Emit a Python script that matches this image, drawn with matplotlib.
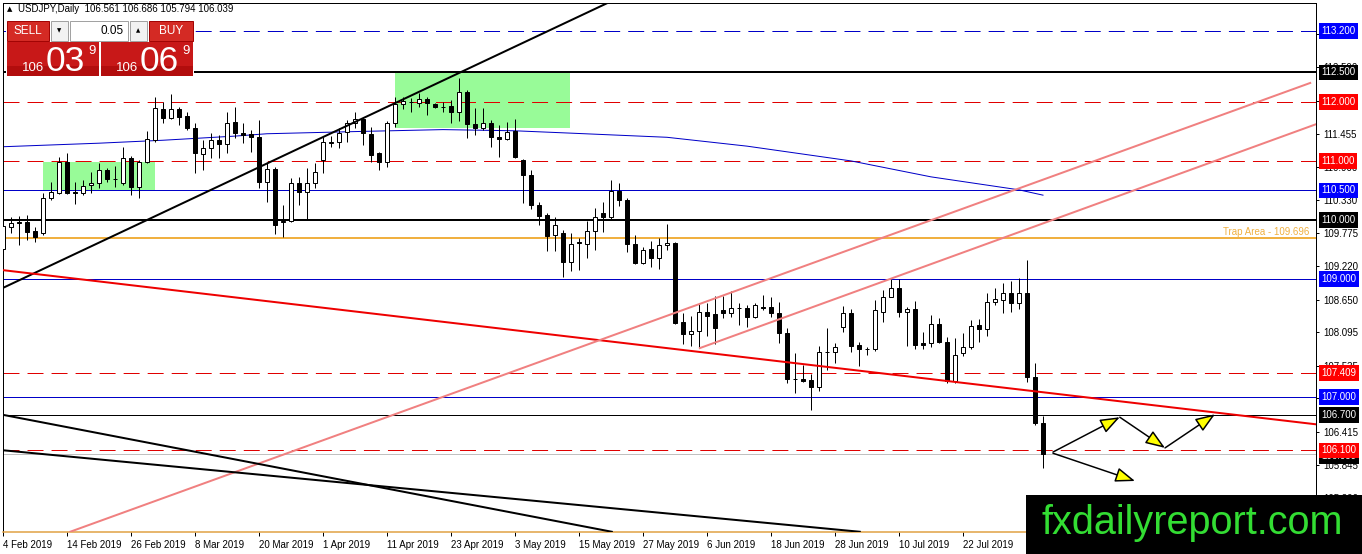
import matplotlib
matplotlib.use('Agg')
import matplotlib.pyplot as plt
import matplotlib.transforms as mtransforms
from matplotlib.patches import Rectangle, FancyArrowPatch

plt.rcParams['font.family'] = ['Liberation Sans', 'DejaVu Sans']
plt.rcParams['lines.scale_dashes'] = False

# ---------------- data ----------------
opens = [109.50,109.88,109.96,109.97,109.81,109.78,110.37,110.46,110.98,110.47,
         110.46,110.59,110.62,110.85,110.70,110.62,111.05,110.56,110.98,111.35,
         111.88,111.73,111.88,111.76,111.56,111.12,111.22,111.35,111.29,111.66,
         111.47,111.46,111.40,110.64,110.86,109.97,109.98,110.63,110.47,110.63,
         111.02,111.31,111.32,111.49,111.64,111.71,111.46,111.13,110.98,111.64,
         111.96,112.00,111.98,112.05,111.96,111.92,111.93,111.83,112.17,111.62,
         111.56,111.64,111.40,111.37,111.50,111.02,110.76,110.25,110.08,109.75,
         109.78,109.29,109.62,109.59,109.81,110.12,110.05,110.49,110.34,109.59,
         109.27,109.51,109.36,109.58,109.61,108.27,108.07,108.12,108.44,108.41,
         108.48,108.42,108.51,108.51,108.36,108.52,108.53,108.42,108.09,107.31,
         107.31,107.29,107.17,107.77,107.76,108.19,108.42,107.88,107.81,107.81,
         108.44,108.70,108.85,108.44,108.49,107.92,107.92,108.24,107.93,107.27,
         107.75,107.85,108.22,108.15,108.61,108.64,108.76,108.59,108.76,107.34,
         106.561]
highs = [110.02,110.05,110.07,110.08,109.88,110.46,110.64,111.07,111.13,110.64,
         110.68,110.81,110.96,110.88,110.91,111.24,111.08,111.02,111.51,112.08,
         112.00,112.13,111.91,111.83,111.64,111.35,111.47,111.44,111.83,111.91,
         111.64,111.52,111.69,110.96,110.90,110.25,110.71,110.73,110.88,110.96,
         111.40,111.42,111.56,111.69,111.83,111.74,111.57,111.15,111.68,112.08,
         112.08,112.07,112.15,112.08,111.98,112.00,112.03,112.40,112.20,111.90,
         111.90,111.69,111.61,111.66,111.71,111.04,110.85,110.30,110.12,110.05,
         109.83,109.78,109.69,109.98,110.20,110.30,110.68,110.63,110.37,109.75,
         109.54,109.64,109.69,109.93,109.63,108.42,108.37,108.59,108.59,108.71,
         108.71,108.80,108.59,108.56,108.59,108.73,108.70,108.61,108.17,107.75,
         107.54,107.40,107.87,108.17,107.92,108.54,108.49,107.93,107.85,108.64,
         108.81,109.00,109.00,108.53,108.63,108.10,108.39,108.34,108.02,108.00,
         108.09,108.31,108.32,108.76,108.85,108.93,108.97,109.02,109.32,107.58,
         106.686]
lows = [109.40,109.78,109.58,109.66,109.63,109.75,110.34,110.44,110.44,110.27,
        110.42,110.46,110.54,110.64,110.56,110.59,110.42,110.37,110.96,111.32,
        111.64,111.71,111.61,111.52,110.80,110.85,111.05,111.05,111.13,111.39,
        111.30,111.15,110.54,110.30,109.76,109.71,109.97,110.25,110.02,110.54,
        110.79,111.24,111.22,111.32,111.56,111.27,110.98,110.85,110.90,111.57,
        111.88,111.83,111.91,111.78,111.90,111.83,111.64,111.67,111.39,111.44,
        111.52,111.24,111.07,111.35,111.05,110.29,110.19,109.91,109.47,109.47,
        109.03,109.14,109.15,109.36,109.49,109.80,110.02,110.24,109.46,109.25,
        109.25,109.20,109.17,109.49,108.23,107.90,107.87,107.85,108.03,107.90,
        108.34,108.36,108.22,108.19,108.34,108.48,108.36,107.92,107.24,107.07,
        107.26,106.78,107.10,107.46,107.58,108.10,107.76,107.53,107.71,107.78,
        108.27,108.70,108.36,107.87,107.81,107.81,107.85,107.92,107.24,107.24,
        107.70,107.81,107.93,108.03,108.56,108.42,108.44,108.49,107.26,106.53,
        105.794]
closes = [109.90,109.95,109.95,109.80,109.71,110.37,110.47,110.98,110.46,110.46,
          110.57,110.62,110.85,110.69,110.69,111.05,110.56,110.98,111.37,111.90,
          111.73,111.88,111.74,111.56,111.13,111.22,111.35,111.29,111.64,111.47,
          111.44,111.40,110.64,110.86,109.91,109.98,110.63,110.47,110.63,110.81,
          111.32,111.32,111.47,111.64,111.71,111.47,111.10,110.98,111.64,111.96,
          112.01,112.00,112.05,111.98,111.91,111.91,111.83,112.17,111.62,111.56,
          111.64,111.40,111.37,111.49,111.07,110.76,110.25,110.07,109.73,109.91,
          109.29,109.59,109.61,109.81,110.05,110.05,110.49,110.34,109.59,109.27,
          109.49,109.36,109.58,109.61,108.25,108.07,108.12,108.44,108.37,108.17,
          108.42,108.51,108.51,108.36,108.56,108.51,108.42,108.09,107.31,107.31,
          107.27,107.17,107.76,107.76,107.85,108.42,107.87,107.81,107.82,108.48,
          108.70,108.85,108.44,108.49,107.88,107.88,108.24,107.93,107.27,107.71,
          107.85,108.20,108.15,108.61,108.66,108.76,108.59,108.76,107.34,106.56,
          106.039]

date_tick_bars = [0, 8, 16, 24, 32, 40, 48, 56, 64, 72, 80, 88, 96, 104, 112, 120]
date_tick_labels = ["4 Feb 2019", "14 Feb 2019", "26 Feb 2019", "8 Mar 2019",
                    "20 Mar 2019", "1 Apr 2019", "11 Apr 2019", "23 Apr 2019",
                    "3 May 2019", "15 May 2019", "27 May 2019", "6 Jun 2019",
                    "18 Jun 2019", "28 Jun 2019", "10 Jul 2019", "22 Jul 2019"]

price_ticks = [113.145, 112.590, 112.010, 111.455, 110.900, 110.330, 109.775,
               109.220, 108.650, 108.095, 107.535, 106.985, 106.415, 105.845, 105.290]

ma_bars = [0, 12, 20, 29, 33, 45, 55, 64, 71, 83, 93, 106, 116, 127, 130]
ma_vals = [111.24, 111.30, 111.35, 111.42, 111.46, 111.50, 111.53, 111.51,
           111.47, 111.40, 111.25, 111.00, 110.73, 110.51, 110.42]

level_prices = [113.2, 112.5, 112.0, 111.0, 110.5, 110.0, 109.0, 107.409, 107.0, 106.7, 106.1]
level_kinds = ['blue_dash', 'black_thick', 'red_dash', 'red_dash', 'blue', 'black_thick',
               'blue', 'red_dash', 'blue', 'black', 'red_dash']
trap_price = 109.696
bid_price = 106.039

trend_black_up = ([0, 75.5], [108.85, 113.67])
trend_red = ([0, 164.1], [109.15, 106.54])
channel_upper = ([8.4, 163.4], [104.72, 112.32])
channel_lower = ([87.1, 164.1], [107.83, 111.62])
trend_black_low1 = ([0, 76.1], [106.70, 104.72])
trend_black_low2 = ([0, 107.1], [106.10, 104.72])

zone1 = (5.0, 19.0, 110.51, 110.98)
zone2 = (49.0, 70.9, 111.56, 112.50)

arrow_path_up = ([131.25, 139.6, 145.25, 151.5], [106.07, 106.66, 106.14, 106.71])
arrow_path_down = ([131.25, 141.5], [106.05, 105.58])

# ---------------- figure ----------------
W, H = 1362, 554
fig = plt.figure(figsize=(W / 100, H / 100), dpi=100)
fig.patch.set_facecolor('white')
ax = fig.add_axes([3 / W, 22 / H, 1313 / W, 529 / H])
ax.set_facecolor('white')
ax.set_xlim(0, 164.125)
ax.set_ylim(104.716, 113.674)

px = 0.72  # one pixel in points

BLUE = '#0000c8'
RED = '#e00000'

# zones
for (x0, x1, y0, y1) in (zone1, zone2):
    ax.add_patch(Rectangle((x0, y0), x1 - x0, y1 - y0, facecolor='#98fb98',
                           edgecolor='none', zorder=1))

# horizontal levels
box_colors = {}
for p, k in zip(level_prices, level_kinds):
    if k == 'blue_dash':
        ax.axhline(p, color=BLUE, lw=px, dashes=(11.5, 5.8), zorder=2)
        box_colors[p] = '#0000ff'
    elif k == 'blue':
        ax.axhline(p, color=BLUE, lw=px, zorder=2)
        box_colors[p] = '#0000ff'
    elif k == 'red_dash':
        ax.axhline(p, color=RED, lw=px, dashes=(11.5, 5.8), zorder=2)
        box_colors[p] = '#ff0000'
    elif k == 'black_thick':
        ax.axhline(p, color='black', lw=2 * px, zorder=2)
        box_colors[p] = 'black'
    else:
        ax.axhline(p, color='black', lw=px, zorder=2)
        box_colors[p] = 'black'
ax.axhline(trap_price, color='#f0b040', lw=2 * px, zorder=2)
ax.axhline(bid_price, color='#c0c0c0', lw=px, zorder=2)
btrans = mtransforms.blended_transform_factory(ax.transAxes, ax.transData)
ax.text(0.995, trap_price + 0.02, 'Trap Area - 109.696', color='#f0b040', fontsize=7,
        ha='right', va='bottom', transform=btrans, zorder=5)

# moving average
ax.plot(ma_bars, ma_vals, color=BLUE, lw=px, zorder=2)

# trend lines
ax.plot(*trend_black_up, color='black', lw=2 * px, zorder=5)
ax.plot(*trend_red, color='#ee0000', lw=2 * px, zorder=5)
ax.plot(*channel_upper, color='#f08080', lw=2 * px, zorder=5)
ax.plot(*channel_lower, color='#f08080', lw=2 * px, zorder=5)
ax.plot(*trend_black_low1, color='black', lw=2 * px, zorder=5)
ax.plot(*trend_black_low2, color='black', lw=2 * px, zorder=5)

# candles
idx = list(range(len(opens)))
ax.vlines(idx, lows, highs, color='black', lw=px, zorder=3)
bottoms = [min(o, c) for o, c in zip(opens, closes)]
heights = [max(abs(c - o), 0.004) for o, c in zip(opens, closes)]
colors = ['white' if c >= o else 'black' for o, c in zip(opens, closes)]
ax.bar(idx, heights, bottom=bottoms, width=0.5, color=colors, edgecolor='black',
       linewidth=px, zorder=4)

# arrows
for xs, ys in (arrow_path_up, arrow_path_down):
    for i in range(len(xs) - 1):
        a = FancyArrowPatch((xs[i], ys[i]), (xs[i + 1], ys[i + 1]),
                            arrowstyle='-|>,head_length=1.2,head_width=0.45',
                            mutation_scale=10, facecolor='#ffff00', edgecolor='black',
                            lw=1.5 * px, shrinkA=0, shrinkB=0, zorder=6)
        ax.add_patch(a)

# axes styling
for s in ['left', 'top', 'right']:
    ax.spines[s].set_color('black')
    ax.spines[s].set_linewidth(px)
ax.spines['bottom'].set_color('#e0a040')
ax.spines['bottom'].set_linewidth(1.5 * px)

ax.yaxis.tick_right()
ax.set_yticks(price_ticks)
ax.set_yticklabels([f'{v:.3f}' for v in price_ticks])
ax.tick_params(axis='y', direction='out', length=2.5, width=px, pad=2.5, labelsize=7, colors='black')
ax.set_xticks(date_tick_bars)
ax.set_xticklabels(date_tick_labels)
for t in ax.get_xticklabels():
    t.set_ha('left')
ax.tick_params(axis='x', direction='out', length=3, width=px, pad=3, labelsize=7, colors='black')

# level price boxes (cover the axis labels beneath them)
ax.text(1.004, bid_price - 0.035, f'{bid_price:.3f}', transform=btrans, color='white', fontsize=7,
        ha='left', va='center', clip_on=False, zorder=9,
        bbox=dict(boxstyle='square,pad=0.28', fc='black', ec='none'))
for p in level_prices:
    ax.text(1.004, p, f'{p:.3f}', transform=btrans, color='white', fontsize=7,
            ha='left', va='center', clip_on=False, zorder=10,
            bbox=dict(boxstyle='square,pad=0.28', fc=box_colors[p], ec='none'))

# ---------------- overlay (trade panel, header, logo) ----------------
ov = fig.add_axes([0, 0, 1, 1], zorder=20)
ov.set_xlim(0, W)
ov.set_ylim(H, 0)
ov.axis('off')
ov.patch.set_alpha(0)

ov.text(7, 9, '\u25b2', fontsize=5, ha='left', va='center', color='black',
        family=['DejaVu Sans'])
ov.text(18, 9, 'USDJPY,Daily  106.561 106.686 105.794 106.039', fontsize=7,
        ha='left', va='center', color='black')

def rect(x0, y0, x1, y1, fc, ec='none', lw=0.0):
    ov.add_patch(Rectangle((x0, y0), x1 - x0, y1 - y0, facecolor=fc, edgecolor=ec, linewidth=lw))

rect(6, 20, 194, 77, 'white')
rect(7, 21, 49, 41, '#d42a24', '#a00000', 0.7)
rect(51, 21, 68, 41, '#f2f2f2', '#a0a0a0', 0.7)
rect(70, 21, 128, 41, 'white', '#a0a0a0', 0.7)
rect(130, 21, 147, 41, '#f2f2f2', '#a0a0a0', 0.7)
rect(149, 21, 193, 41, '#d42a24', '#a00000', 0.7)
rect(7, 42, 99, 76, '#c81818')
rect(101, 42, 193, 76, '#c81818')
rect(7, 66, 99, 76, '#b20d0d')
rect(101, 66, 193, 76, '#b20d0d')

ov.text(28, 31, 'SELL', fontsize=8.5, color='white', ha='center', va='center')
ov.text(171, 31, 'BUY', fontsize=8.5, color='white', ha='center', va='center')
ov.text(124, 31, '0.05', fontsize=8.5, color='black', ha='right', va='center')
ov.text(59.5, 31, '\u25bc', fontsize=4, color='black', ha='center', va='center', family=['DejaVu Sans'])
ov.text(138.5, 31, '\u25b2', fontsize=4, color='black', ha='center', va='center', family=['DejaVu Sans'])

ov.text(22, 71, '106', fontsize=9.5, color='white', ha='left', va='baseline')
ov.text(46, 71, '03', fontsize=25.5, color='white', ha='left', va='baseline')
ov.text(88, 54, '9', fontsize=9.5, color='white', ha='left', va='baseline')
ov.text(116, 71, '106', fontsize=9.5, color='white', ha='left', va='baseline')
ov.text(140, 71, '06', fontsize=25.5, color='white', ha='left', va='baseline')
ov.text(182, 54, '9', fontsize=9.5, color='white', ha='left', va='baseline')

rect(1026, 495, 1362, 554, 'black')
ov.text(1042, 534, 'fxdailyreport.com', fontsize=28.5, color='#33dd33', ha='left', va='baseline')

fig.savefig('out.png', dpi=100, facecolor='white')
